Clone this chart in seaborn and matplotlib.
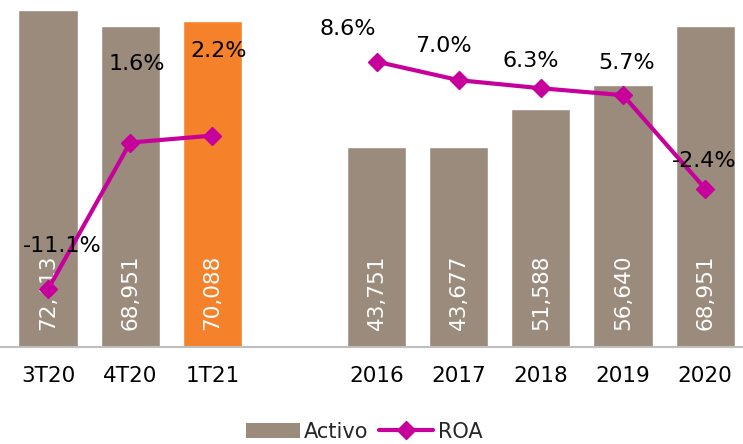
import matplotlib
matplotlib.use("Agg")
import matplotlib.pyplot as plt
from matplotlib.patches import Patch
from matplotlib.lines import Line2D
import seaborn as sns
import pandas as pd

# ── Datos ────────────────────────────────────────────────────────────────────
trimestres = ["3T20", "4T20", "1T21"]
anios = ["2016", "2017", "2018", "2019", "2020"]
activo_trim = [72413, 68951, 70088]
activo_anual = [43751, 43677, 51588, 56640, 68951]
roa_trim = [-11.1, 1.6, 2.2]
roa_anual = [8.6, 7.0, 6.3, 5.7, -2.4]

# ── Estilo ───────────────────────────────────────────────────────────────────
GRIS = "#9B8B7C"
NARANJA = "#F5822A"
MAGENTA = "#C8009B"

sns.set_theme(style="white")
plt.rcParams["font.family"] = ["DejaVu Sans"]

# desplazamiento de etiquetas ROA (pixeles) respecto al punto
offs_trim = [(14, 43), (7, 79), (6, 85)]
offs_anual = [(-29, 33), (-15, 34), (-10, 27), (4, 32), (-1, 28)]

orden = trimestres + [""] + anios
df = pd.DataFrame({
    "periodo": trimestres + anios,
    "activo": activo_trim + activo_anual,
})
colores = {p: GRIS for p in df["periodo"]}
colores["1T21"] = NARANJA

fig = plt.figure(figsize=(7.43, 4.44), dpi=100)
ax = fig.add_axes([0, (444 - 347) / 444, 1, 347 / 444])

sns.barplot(data=df, x="periodo", y="activo", order=orden, hue="periodo",
            palette=colores, legend=False, width=0.72, saturation=1, ax=ax)

ax.set_xlim(-0.585, 8.46)
ax.set_ylim(1750, 74500)
ax.set_xlabel("")
ax.set_ylabel("")
ax.set_yticks([])
for s in ["top", "right", "left"]:
    ax.spines[s].set_visible(False)
ax.spines["bottom"].set_color("#BFBFBF")
ax.spines["bottom"].set_linewidth(1.5)
ax.tick_params(axis="x", length=0, pad=14, labelsize=15.5, labelcolor="black")

# etiquetas de valor dentro de las barras
base = ax.get_ylim()[0]
for p, v in zip(df["periodo"], df["activo"]):
    ax.annotate(f"{v:,}", (orden.index(p), base), xytext=(0, 17),
                textcoords="offset pixels", rotation=90, ha="center",
                va="bottom", color="white", fontsize=15.5)

# ── ROA en eje secundario ────────────────────────────────────────────────────
ax2 = ax.twinx()
ax2.set_ylim(-16.1, 13.94)
ax2.set_axis_off()

for grupo, roa, offs in [(trimestres, roa_trim, offs_trim),
                         (anios, roa_anual, offs_anual)]:
    xs = [orden.index(p) for p in grupo]
    sns.lineplot(x=xs, y=roa, ax=ax2, color=MAGENTA, linewidth=3,
                 marker="D", markersize=9, markeredgecolor=MAGENTA,
                 markeredgewidth=1)
    for x, r, (dx, dy) in zip(xs, roa, offs):
        ax2.annotate(f"{r:.1f}%", (x, r), xytext=(dx, dy),
                     textcoords="offset pixels", ha="center", va="center",
                     color="black", fontsize=16)

handles = [
    Patch(facecolor=GRIS, edgecolor="none"),
    Line2D([], [], color=MAGENTA, linewidth=3, marker="D", markersize=9),
]
fig.legend(handles, ["Activo", "ROA"], loc="center", bbox_to_anchor=(0.49, 0.028),
           ncol=2, frameon=False, fontsize=15, handlelength=2.6,
           handleheight=0.7, handletextpad=0.2, columnspacing=0.5,
           borderpad=0)

fig.savefig("out.png", dpi=100)
